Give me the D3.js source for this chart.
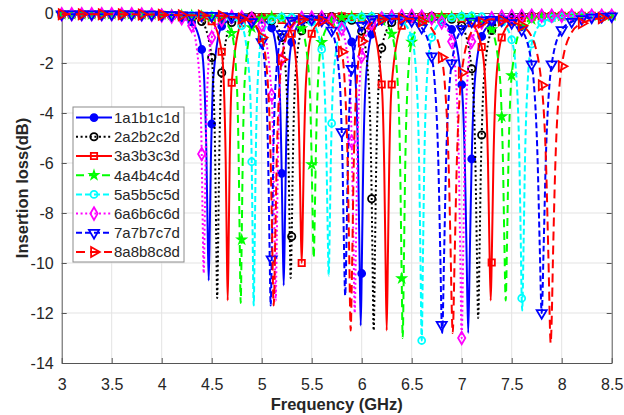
<!DOCTYPE html>
<html>
<head>
<meta charset="utf-8">
<script src="https://cdn.jsdelivr.net/npm/d3@7"></script>
<style>
  body { margin: 0; background: #ffffff; }
  text { font-family: "Liberation Sans", Arial, Helvetica, sans-serif; fill: #262626; }
</style>
</head>
<body>
<div id="plotDiv"></div>
<script>
//----------------------------------------------------------------------------------------------------
// insertion loss of eight resonator sets, four notches each
//----------------------------------------------------------------------------------------------------
var seriesNames = ["1a1b1c1d", "2a2b2c2d", "3a3b3c3d", "4a4b4c4d",
                   "5a5b5c5d", "6a6b6c6d", "7a7b7c7d", "8a8b8c8d"];

var xTicks = [3, 3.5, 4, 4.5, 5, 5.5, 6, 6.5, 7, 7.5, 8, 8.5];
var xTickLabels = ["3", "3.5", "4", "4.5", "5", "5.5", "6", "6.5", "7", "7.5", "8", "8.5"];
var yTicks = [0, -2, -4, -6, -8, -10, -12, -14];
var yTickLabels = ["0", "-2", "-4", "-6", "-8", "-10", "-12", "-14"];

   // frequency samples (GHz) that carry the markers
var freqGrid = [3.0, 3.1, 3.2, 3.3, 3.4, 3.5, 3.6, 3.7, 3.8, 3.9,
                4.0, 4.1, 4.2, 4.3, 4.4, 4.5, 4.6, 4.7, 4.8, 4.9,
                5.0, 5.1, 5.2, 5.3, 5.4, 5.5, 5.6, 5.7, 5.8, 5.9,
                6.0, 6.1, 6.2, 6.3, 6.4, 6.5, 6.6, 6.7, 6.8, 6.9,
                7.0, 7.1, 7.2, 7.3, 7.4, 7.5, 7.6, 7.7, 7.8, 7.9,
                8.0, 8.1, 8.2, 8.3, 8.4, 8.5];

   // dB at each freqGrid sample
var s1Grid = [-0.05,-0.05,-0.05,-0.05,-0.05,-0.05,-0.05,-0.06,-0.06,-0.07,
              -0.09,-0.13,-0.19,-0.36,-1.46,-4.44,-0.53,-0.24,-0.15,-0.16,
              -0.25,-0.60,-6.42,-1.17,-0.33,-0.22,-0.21,-0.23,-0.36,-1.16,
              -10.42,-0.85,-0.31,-0.18,-0.18,-0.17,-0.19,-0.23,-0.34,-0.66,
              -2.87,-5.84,-0.94,-0.39,-0.23,-0.17,-0.14,-0.12,-0.11,-0.11,
              -0.10,-0.10,-0.10,-0.10,-0.10,-0.10];
var s2Grid = [-0.05,-0.05,-0.05,-0.05,-0.05,-0.05,-0.05,-0.05,-0.06,-0.06,
              -0.08,-0.10,-0.13,-0.18,-0.34,-1.78,-2.39,-0.38,-0.19,-0.13,
              -0.18,-0.31,-0.98,-8.94,-0.71,-0.26,-0.16,-0.14,-0.18,-0.29,
              -0.73,-7.43,-1.40,-0.38,-0.21,-0.15,-0.13,-0.13,-0.17,-0.25,
              -0.51,-2.23,-4.88,-0.70,-0.30,-0.19,-0.14,-0.12,-0.11,-0.11,
              -0.11,-0.11,-0.11,-0.11,-0.11,-0.11];
var s3Grid = [-0.05,-0.05,-0.05,-0.05,-0.05,-0.05,-0.05,-0.05,-0.06,-0.06,
              -0.07,-0.08,-0.10,-0.13,-0.17,-0.33,-1.55,-2.79,-0.40,-0.19,
              -0.18,-0.17,-0.28,-0.83,-10.0,-0.83,-0.28,-0.17,-0.13,-0.16,
              -0.24,-0.51,-2.86,-2.86,-0.51,-0.24,-0.16,-0.17,-0.16,-0.16,
              -0.22,-0.41,-1.36,-9.98,-0.98,-0.35,-0.21,-0.15,-0.13,-0.12,
              -0.11,-0.11,-0.11,-0.11,-0.11,-0.11];
var s4Grid = [-0.05,-0.05,-0.05,-0.05,-0.05,-0.05,-0.05,-0.05,-0.06,-0.06,
              -0.07,-0.08,-0.09,-0.10,-0.12,-0.16,-0.26,-0.81,-9.07,-0.58,
              -0.23,-0.15,-0.20,-0.25,-0.62,-6.06,-1.17,-0.33,-0.18,-0.15,
              -0.16,-0.18,-0.31,-0.84,-10.62,-1.16,-0.36,-0.20,-0.15,-0.16,
              -0.15,-0.18,-0.29,-0.66,-4.14,-2.50,-0.54,-0.26,-0.17,-0.14,
              -0.12,-0.11,-0.11,-0.11,-0.11,-0.11];
var s5Grid = [-0.05,-0.05,-0.05,-0.05,-0.05,-0.05,-0.05,-0.05,-0.06,-0.06,
              -0.07,-0.08,-0.09,-0.10,-0.10,-0.11,-0.14,-0.21,-0.51,-5.95,
              -0.98,-0.28,-0.16,-0.18,-0.19,-0.36,-1.46,-4.41,-0.54,-0.23,
              -0.15,-0.14,-0.14,-0.19,-0.33,-0.98,-13.1,-0.98,-0.33,-0.19,
              -0.13,-0.12,-0.15,-0.21,-0.37,-1.07,-11.41,-1.24,-0.39,-0.22,
              -0.16,-0.13,-0.12,-0.12,-0.12,-0.12];
var s6Grid = [-0.05,-0.05,-0.05,-0.05,-0.05,-0.05,-0.05,-0.05,-0.06,-0.07,
              -0.10,-0.14,-0.21,-0.51,-5.64,-0.98,-0.28,-0.16,-0.18,-0.22,
              -0.48,-3.29,-1.86,-0.38,-0.20,-0.19,-0.18,-0.27,-0.64,-5.15,
              -1.73,-0.42,-0.22,-0.15,-0.13,-0.12,-0.15,-0.21,-0.38,-1.14,
              -13.0,-1.14,-0.38,-0.21,-0.15,-0.13,-0.12,-0.11,-0.11,-0.11,
              -0.11,-0.11,-0.11,-0.11,-0.11,-0.11];
var s7Grid = [-0.05,-0.05,-0.05,-0.05,-0.05,-0.05,-0.05,-0.05,-0.06,-0.06,
              -0.07,-0.08,-0.09,-0.10,-0.10,-0.11,-0.12,-0.15,-0.20,-0.36,
              -1.16,-9.85,-0.84,-0.31,-0.24,-0.25,-0.30,-0.70,-4.76,-2.23,
              -0.51,-0.25,-0.23,-0.22,-0.26,-0.32,-0.59,-1.73,-12.47,-2.01,
              -0.64,-0.34,-0.29,-0.27,-0.30,-0.40,-0.68,-2.05,-12.0,-2.05,
              -0.68,-0.35,-0.24,-0.18,-0.15,-0.13];
var s8Grid = [-0.05,-0.05,-0.05,-0.05,-0.05,-0.05,-0.05,-0.05,-0.06,-0.06,
              -0.07,-0.08,-0.09,-0.09,-0.10,-0.10,-0.12,-0.16,-0.22,-0.37,
              -0.98,-7.94,-1.86,-0.51,-0.26,-0.26,-0.31,-0.47,-1.55,-11.01,
              -1.13,-0.40,-0.26,-0.23,-0.23,-0.23,-0.34,-0.63,-1.78,-11.73,
              -2.39,-0.74,-0.38,-0.25,-0.30,-0.37,-0.51,-0.95,-2.89,-12.26,
              -2.13,-0.77,-0.41,-0.27,-0.21,-0.17];

   // extra [GHz, dB] samples through each notch (no markers)
var s1Dips = [[4.425,-2.66],[4.4475,-5.72],[4.459,-8.57],[4.47,-10.7],[4.481,-8.57],[4.4925,-5.72],[4.515,-2.66],
              [5.175,-2.67],[5.209,-8.69],[5.22,-10.9],[5.231,-8.69],[5.2425,-5.77],[5.265,-2.67],
              [5.94,-2.77],[5.965,-6.11],[5.9775,-9.52],[5.99,-12.5],[6.015,-6.11],[6.04,-2.77],
              [7.0325,-6.16],[7.049,-9.66],[7.065,-12.8],[7.081,-9.66],[7.13,-2.79]];
var s2Dips = [[4.515,-2.70],[4.535,-5.89],[4.545,-8.96],[4.555,-11.4],[4.565,-8.96],[4.575,-5.89],
              [5.245,-2.65],[5.2675,-5.69],[5.279,-8.51],[5.29,-10.6],[5.3125,-5.69],[5.335,-2.65],
              [6.07,-2.78],[6.1075,-9.61],[6.12,-12.7],[6.1325,-9.61],[6.145,-6.14],[6.17,-2.78],
              [7.11,-2.76],[7.1375,-6.05],[7.151,-9.37],[7.165,-12.2],[7.179,-9.37],[7.1925,-6.05],[7.22,-2.76]];
var s3Dips = [[4.62,-2.71],[4.64,-5.91],[4.65,-9.01],[4.66,-11.5],[4.67,-9.01],[4.68,-5.91],
              [5.355,-2.60],[5.3775,-5.53],[5.389,-8.16],[5.411,-8.16],[5.4225,-5.53],[5.445,-2.60],
              [6.225,-6.14],[6.2375,-9.61],[6.25,-12.7],[6.2625,-9.61],[6.275,-6.14],
              [7.235,-2.71],[7.2625,-5.91],[7.276,-9.01],[7.29,-11.5],[7.3175,-5.91],[7.345,-2.71]];
var s4Dips = [[4.75,-2.72],[4.77,-5.93],[4.78,-9.07],[4.79,-11.6],[4.81,-5.93],[4.83,-2.72],
              [5.475,-2.58],[5.509,-8.03],[5.52,-9.8],[5.531,-8.03],[5.5425,-5.47],[5.565,-2.58],
              [6.36,-2.80],[6.385,-6.20],[6.41,-13.0],[6.4225,-9.75],[6.435,-6.20],[6.46,-2.80],
              [7.385,-2.71],[7.4125,-5.91],[7.426,-9.01],[7.44,-11.5],[7.454,-9.01],[7.4675,-5.91]];
var s5Dips = [[4.88,-2.73],[4.91,-9.12],[4.92,-11.7],[4.93,-9.12],[4.94,-5.95],[4.96,-2.73],
              [5.625,-2.64],[5.6475,-5.67],[5.659,-8.46],[5.67,-10.5],[5.681,-8.46],[5.6925,-5.67],[5.715,-2.64],
              [6.55,-2.80],[6.575,-6.22],[6.5875,-9.79],[6.6125,-9.79],[6.625,-6.22],[6.65,-2.80],
              [7.55,-2.74],[7.5775,-5.99],[7.591,-9.22],[7.605,-11.9],[7.619,-9.22],[7.6325,-5.99],[7.66,-2.74]];
var s6Dips = [[4.38,-2.63],[4.41,-8.40],[4.42,-10.4],[4.43,-8.40],[4.44,-5.64],[4.46,-2.63],
              [5.1175,-5.91],[5.129,-9.01],[5.14,-11.5],[5.151,-9.01],[5.1625,-5.91],[5.185,-2.71],
              [5.88,-2.74],[5.9175,-9.27],[5.93,-12.0],[5.9425,-9.27],[5.955,-6.01],[5.98,-2.74],
              [6.945,-2.80],[6.9725,-6.20],[6.986,-9.75],[7.014,-9.75],[7.0275,-6.20],[7.055,-2.80]];
var s7Dips = [[5.04,-2.73],[5.065,-5.95],[5.0775,-9.12],[5.09,-11.7],[5.115,-5.95],[5.14,-2.73],
              [5.78,-2.70],[5.8075,-5.86],[5.821,-8.91],[5.835,-11.3],[5.849,-8.91],[5.8625,-5.86],[5.89,-2.70],
              [6.73,-2.79],[6.7675,-6.16],[6.786,-9.66],[6.805,-12.8],[6.824,-9.66],[6.8425,-6.16],[6.88,-2.79],
              [7.72,-2.74],[7.76,-6.01],[7.78,-9.27],[7.82,-9.27],[7.84,-6.01],[7.88,-2.74]];
var s8Dips = [[5.06,-2.73],[5.09,-5.95],[5.12,-11.7],[5.135,-9.12],[5.15,-5.95],[5.18,-2.73],
              [5.83,-2.78],[5.86,-6.14],[5.875,-9.61],[5.89,-12.7],[5.92,-6.14],[5.95,-2.78],
              [6.83,-2.79],[6.87,-6.16],[6.89,-9.66],[6.91,-12.8],[6.93,-9.66],[6.95,-6.16],[6.99,-2.79],
              [7.845,-6.23],[7.8675,-9.83],[7.89,-13.2],[7.9125,-9.83],[7.935,-6.23],[7.98,-2.81]];

var gridValues = [s1Grid, s2Grid, s3Grid, s4Grid, s5Grid, s6Grid, s7Grid, s8Grid];
var dipValues  = [s1Dips, s2Dips, s3Dips, s4Dips, s5Dips, s6Dips, s7Dips, s8Dips];

//----------------------------------------------------------------------------------------------------
var seriesStyles = [
   {color: "#0000ff", dash: null,    symbol: d3.symbolCircle,   size: 38, fill: true,  rotate: 0,   step: 1},
   {color: "#000000", dash: "2,2.6", symbol: d3.symbolCircle,   size: 42, fill: false, rotate: 0,   step: 1},
   {color: "#ff0000", dash: null,    symbol: d3.symbolSquare,   size: 40, fill: false, rotate: 0,   step: 1},
   {color: "#00ff00", dash: "8,5",   symbol: d3.symbolStar,     size: 18, fill: false, rotate: 0,   step: 1},
   {color: "#00ffff", dash: "6,3",   symbol: d3.symbolCircle,   size: 38, fill: false, rotate: 0,   step: 1},
   {color: "#ff00ff", dash: "2,2.6", symbol: d3.symbolDiamond,  size: 46, fill: false, rotate: 0,   step: 1},
   {color: "#0000ff", dash: "6,3",   symbol: d3.symbolTriangle, size: 44, fill: false, rotate: 180, step: 1},
   {color: "#ff0000", dash: "9,5",   symbol: d3.symbolTriangle, size: 44, fill: false, rotate: 90,  step: 2}
   ];

var width = 624;
var height = 415;
var plotLeft = 61.7, plotRight = 611.7, plotTop = 13, plotBottom = 363;

var xScale = d3.scaleLinear().domain([3, 8.5]).range([plotLeft, plotRight]);
var yScale = d3.scaleLinear().domain([-14, 0]).range([plotBottom, plotTop]);

//----------------------------------------------------------------------------------------------------
function buildSeries(gridVals, dipPts, step)
{
   var pts = [];
   for(var i=0; i < freqGrid.length; i++){
      pts.push({f: freqGrid[i], db: gridVals[i], marker: (i % step == 0)});
      }
   dipPts.forEach(function(p){
      pts.push({f: p[0], db: p[1], marker: false});
      });
   pts.sort(function(a, b){ return a.f - b.f; });
   return pts;

} // buildSeries
//----------------------------------------------------------------------------------------------------
function drawMarker(sel, style)
{
   sel.attr("d", d3.symbol().type(style.symbol).size(style.size))
      .attr("fill", style.fill ? style.color : "none")
      .attr("stroke", style.color)
      .attr("stroke-width", 1.8);

} // drawMarker
//----------------------------------------------------------------------------------------------------
function drawAxes(svg)
{
   var grid = svg.append("g").attr("class", "grid");

   grid.selectAll("line.vgrid")
      .data(xTicks.slice(1, -1))
      .enter().append("line")
      .attr("x1", function(d){ return xScale(d); })
      .attr("x2", function(d){ return xScale(d); })
      .attr("y1", plotTop)
      .attr("y2", plotBottom)
      .attr("stroke", "#e3e3e3")
      .attr("stroke-width", 1);

   grid.selectAll("line.hgrid")
      .data(yTicks.slice(1, -1))
      .enter().append("line")
      .attr("x1", plotLeft)
      .attr("x2", plotRight)
      .attr("y1", function(d){ return yScale(d); })
      .attr("y2", function(d){ return yScale(d); })
      .attr("stroke", "#e3e3e3")
      .attr("stroke-width", 1);

   var xAxis = d3.axisBottom(xScale)
         .tickValues(xTicks)
         .tickSizeInner(-5)
         .tickSizeOuter(0)
         .tickPadding(16)
         .tickFormat(function(d, i){ return xTickLabels[i]; });

   var yAxis = d3.axisLeft(yScale)
         .tickValues(yTicks)
         .tickSizeInner(-5)
         .tickSizeOuter(0)
         .tickPadding(8)
         .tickFormat(function(d, i){ return yTickLabels[i]; });

   var gx = svg.append("g")
      .attr("transform", "translate(0," + plotBottom + ")")
      .call(xAxis);
   var gy = svg.append("g")
      .attr("transform", "translate(" + plotLeft + ",0)")
      .call(yAxis);

   svg.append("g")
      .attr("transform", "translate(0," + plotTop + ")")
      .call(d3.axisTop(xScale).tickValues(xTicks).tickSizeInner(-5).tickSizeOuter(0).tickFormat(""));
   svg.append("g")
      .attr("transform", "translate(" + plotRight + ",0)")
      .call(d3.axisRight(yScale).tickValues(yTicks).tickSizeInner(-5).tickSizeOuter(0).tickFormat(""));

   svg.selectAll(".domain, .tick line")
      .attr("stroke", "#555555")
      .attr("stroke-width", 1);

   gx.selectAll("text").style("font-size", "16px").attr("fill", "#262626");
   gy.selectAll("text").style("font-size", "16px").attr("fill", "#262626");

   svg.append("text")
      .attr("x", (plotLeft + plotRight) / 2)
      .attr("y", 410)
      .attr("text-anchor", "middle")
      .style("font-size", "16.5px")
      .style("font-weight", "bold")
      .text("Frequency (GHz)");

   svg.append("text")
      .attr("transform", "translate(22," + ((plotTop + plotBottom) / 2) + ") rotate(-90)")
      .attr("text-anchor", "middle")
      .attr("dy", "0.35em")
      .style("font-size", "16.5px")
      .style("font-weight", "bold")
      .text("Insertion loss(dB)");

} // drawAxes
//----------------------------------------------------------------------------------------------------
function drawSeries(svg)
{
   var line = d3.line()
      .x(function(d){ return xScale(d.f); })
      .y(function(d){ return yScale(d.db); })
      .curve(d3.curveMonotoneX);

   for(var s=0; s < seriesNames.length; s++){
      var style = seriesStyles[s];
      var pts = buildSeries(gridValues[s], dipValues[s], style.step);
      var g = svg.append("g").attr("class", "series");

      g.append("path")
         .datum(pts)
         .attr("d", line)
         .attr("fill", "none")
         .attr("stroke", style.color)
         .attr("stroke-width", 2)
         .attr("stroke-dasharray", style.dash);

      g.selectAll("path.marker")
         .data(pts.filter(function(d){ return d.marker; }))
         .enter().append("path")
         .attr("class", "marker")
         .attr("transform", function(d){
            return "translate(" + xScale(d.f) + "," + yScale(d.db) + ") rotate(" + style.rotate + ")";
            })
         .call(drawMarker, style);
      } // for s

} // drawSeries
//----------------------------------------------------------------------------------------------------
function drawLegend(svg)
{
   var legend = svg.append("g").attr("class", "legend");

   legend.append("rect")
      .attr("x", 73)
      .attr("y", 107)
      .attr("width", 111)
      .attr("height", 155)
      .attr("fill", "#ffffff")
      .attr("stroke", "#8c8c8c")
      .attr("stroke-width", 1);

   for(var i=0; i < seriesNames.length; i++){
      var style = seriesStyles[i];
      var y = 117.6 + i * 19.2;
      legend.append("line")
         .attr("x1", 76)
         .attr("x2", 112)
         .attr("y1", y)
         .attr("y2", y)
         .attr("stroke", style.color)
         .attr("stroke-width", 2)
         .attr("stroke-dasharray", style.dash);
      legend.append("path")
         .attr("transform", "translate(94," + y + ") rotate(" + style.rotate + ")")
         .call(drawMarker, style);
      legend.append("text")
         .attr("x", 114)
         .attr("y", y)
         .attr("dy", "0.36em")
         .style("font-size", "15px")
         .attr("fill", "#262626")
         .text(seriesNames[i]);
      }

} // drawLegend
//----------------------------------------------------------------------------------------------------
var svg = d3.select("#plotDiv")
   .append("svg")
   .attr("width", width)
   .attr("height", height)
   .style("display", "block")
   .style("background", "#ffffff");

drawAxes(svg);
drawSeries(svg);
drawLegend(svg);

</script>
</body>
</html>
